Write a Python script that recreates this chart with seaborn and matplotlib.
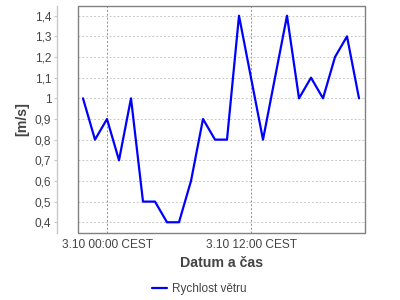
import matplotlib
matplotlib.use("Agg")
import matplotlib.pyplot as plt
import matplotlib.dates as mdates
from matplotlib.patches import Rectangle
from matplotlib.ticker import FuncFormatter, MultipleLocator
from matplotlib.lines import Line2D
import seaborn as sns
import pandas as pd

times = pd.date_range("2023-10-02 22:00", periods=24, freq="h")
speed = [1.0, 0.8, 0.9, 0.7, 1.0, 0.5, 0.5, 0.4, 0.4, 0.6, 0.9, 0.8,
         0.8, 1.4, 1.1, 0.8, 1.1, 1.4, 1.0, 1.1, 1.0, 1.2, 1.3, 1.0]
series_name = "Rychlost větru"
x_label = "Datum a čas"
y_label = "[m/s]"

df = pd.DataFrame({"time": times, "value": speed, "series": series_name})

sns.set_style("white")
plt.rcParams["font.family"] = ["Liberation Sans", "DejaVu Sans"]

fig = plt.figure(figsize=(4, 3), dpi=100)
ax = fig.add_axes([78 / 400, 1 - 233 / 300, (365 - 78) / 400, (233 - 6) / 300])

sns.lineplot(data=df, x="time", y="value", hue="series", palette=["#0000FF"],
             linewidth=1.6, ax=ax, legend=False)

ax.set_xlim(pd.Timestamp("2023-10-02 22:00") - pd.Timedelta(minutes=25),
            pd.Timestamp("2023-10-03 21:30"))
ax.set_ylim(0.348, 1.447)

ax.yaxis.set_major_locator(MultipleLocator(0.1))
ax.yaxis.set_major_formatter(FuncFormatter(lambda v, p: ("%g" % round(v, 1)).replace(".", ",")))
ax.xaxis.set_major_locator(mdates.HourLocator(byhour=[0, 12]))

def fmt_date(v, p):
    d = mdates.num2date(v)
    return f"{d.day}.{d.month} {d:%H:%M} CEST"

ax.xaxis.set_major_formatter(FuncFormatter(fmt_date))

ax.grid(axis="y", color="#c8c8c8", linestyle=(0, (2, 2)), linewidth=0.7)
ax.grid(axis="x", color="#909090", linestyle=(0, (2, 2)), linewidth=0.7)

for s in ["top", "right", "bottom"]:
    ax.spines[s].set_visible(False)
ax.spines["left"].set_position(("outward", 21 * 72 / 100))
ax.spines["left"].set_color("#c8c8c8")
ax.spines["left"].set_linewidth(1.0)

frame = Rectangle((0, 0), 1, 1, transform=ax.transAxes, fill=False,
                  edgecolor="#808080", linewidth=1.0, clip_on=False, zorder=5)
ax.add_patch(frame)

ax.tick_params(axis="y", which="major", length=2, width=0.8, color="#c8c8c8",
               labelsize=8.6, labelcolor="#444444", pad=2, left=True)
ax.tick_params(axis="x", which="major", length=0, labelsize=8.6,
               labelcolor="#444444", pad=4, bottom=True)

ax.set_xlabel(x_label, fontsize=10.2, fontweight="bold", color="#444444", labelpad=4)
ax.set_ylabel(y_label, fontsize=10.2, fontweight="bold", color="#444444", labelpad=4)

handle = Line2D([], [], color="#0000FF", linewidth=1.6)
fig.legend([handle], [series_name], loc="center", bbox_to_anchor=(199 / 400, 1 - 289 / 300),
           frameon=False, fontsize=8.5, handlelength=1.3, handletextpad=0.4,
           labelcolor="#444444")

fig.savefig("out.png", dpi=100)
